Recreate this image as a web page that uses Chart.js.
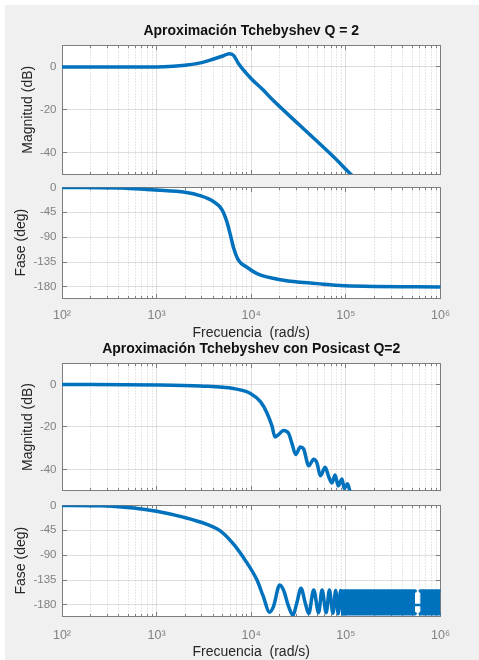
<!DOCTYPE html>
<html lang="es">
<head>
<meta charset="utf-8">
<title>Aproximación Tchebyshev</title>
<script src="https://cdn.jsdelivr.net/npm/chart.js"></script>
<style>
  html, body { margin: 0; padding: 0; background: #fff; overflow: hidden; }
  .figure { position: absolute; left: 5px; top: 5px; width: 474px; height: 655px; background: #f0f0f0; }
  canvas { position: absolute; left: 0; }
</style>
</head>
<body>
<div class="figure"></div>
<canvas id="magChart" width="479" height="190" style="top:0px"></canvas>
<canvas id="faseChart" width="479" height="180" style="top:175px"></canvas>
<canvas id="magPosChart" width="479" height="170" style="top:333px"></canvas>
<canvas id="fasePosChart" width="479" height="167" style="top:493px"></canvas>
<script>
// Axis ticks
const freqTicks = [1e2, 1e3, 1e4, 1e5, 1e6];
const freqLabels = ['10²', '10³', '10⁴', '10⁵', '10⁶'];
const magTicks = [-40, -20, 0];
const phaseTicks = [-180, -135, -90, -45, 0];

// Tchebyshev Q = 2 : magnitude (dB)
const tchebMagFreq = [100, 1000, 1500, 2000, 3000, 4000, 5000, 5850, 6500, 7350, 10000, 13400, 15800, 33000, 74000, 112000, 125000];
const tchebMag = [0, 0, 0.3, 0.8, 2.0, 3.7, 5.1, 6.2, 5.4, 1.5, -5.5, -10.8, -14.2, -27.5, -42, -50, -52];

// Tchebyshev Q = 2 : phase (deg)
const tchebPhaseFreq = [100, 525, 1000, 2000, 2870, 3980, 4900, 5500, 6000, 6500, 7350, 8950, 11500, 22000, 49500, 96000, 1000000];
const tchebPhase = [0, -1.8, -4.7, -8.9, -14.8, -25.5, -40, -61, -85, -109, -132, -144, -156, -168, -174, -178, -180];

// Tchebyshev con Posicast Q=2 : magnitude (dB)
const posMagFreq = [100, 1000, 2900, 6500, 9800, 12500, 14700, 16600, 17800, 19400, 21900, 24800, 27000, 29500, 33000, 35700, 40500, 45700, 49500, 53700, 60500, 66000, 71000, 77000, 83000, 91000, 96000, 104000, 110000, 115000];
const posMag = [0, -0.2, -0.7, -1.9, -4.2, -8.1, -13.5, -19.7, -24.7, -23.6, -21.7, -23, -28, -33, -29.5, -30.3, -38.3, -35.2, -37, -43, -39, -43.6, -46.4, -42.6, -47.8, -44.5, -49, -46.8, -50, -52];

// Tchebyshev con Posicast Q=2 : phase (deg)
const posPhaseFreq = [100, 253, 570, 1000, 1910, 3400, 4700, 6500, 8900, 11500, 13400, 15600, 17200, 20000, 21900, 24800, 27600, 30300, 33600, 37200, 40500, 45700, 51500, 56000, 62000, 67000, 73000, 78000, 83000, 88000, 93000];
const posPhase = [0, -0.5, -4.7, -10.7, -21.3, -34.3, -46, -70, -102.5, -135, -164.7, -193, -182.5, -144, -153, -182.5, -199, -176.5, -150, -176.5, -195.5, -153, -194, -153, -194, -153, -195, -154, -196, -154, -196];
// dense oscillation band at high frequency (envelope) and the short gap in it
const bandFreqA = [93000, 540000];
const bandFreqB = [610000, 1000000];
const bandTop = [-155, -155];
const bandBottom = [-196, -196];
const gapFreq = [540000, 610000];
const gapPhase = [-180, -180];

const blue = '#0072BD';
const frameColor = '#7d7d7d';
const tickColor = '#808080';
const labelColor = '#262626';

Chart.defaults.font.family = '"Liberation Sans", Arial, Helvetica, sans-serif';

// minor grid positions for the log axis (2..9 per decade)
const minorFreq = [];
for (let e = 2; e < 6; e++) {
    for (let m = 2; m <= 9; m++) minorFreq.push(m * Math.pow(10, e));
}

function pts(xs, ys) {
    return xs.map((x, i) => ({ x: x, y: ys[i] }));
}

// white axes background, dotted minor grid, inward ticks and box
const bodeFrame = {
    id: 'bodeFrame',
    beforeDraw(chart) {
        const { ctx, chartArea: a } = chart;
        ctx.save();
        ctx.fillStyle = '#ffffff';
        ctx.fillRect(a.left, a.top, a.right - a.left, a.bottom - a.top);
        ctx.restore();
    },
    beforeDatasetsDraw(chart) {
        const { ctx, chartArea: a, scales } = chart;
        const xs = scales.x, ys = scales.y;
        const px = v => Math.floor(v) + 0.5;
        const L = px(a.left), R = px(a.right), T = px(a.top), B = px(a.bottom);
        const seg = (x1, y1, x2, y2) => { ctx.beginPath(); ctx.moveTo(x1, y1); ctx.lineTo(x2, y2); ctx.stroke(); };
        ctx.save();
        ctx.lineWidth = 1;
        ctx.strokeStyle = 'rgba(38,38,38,0.22)';
        ctx.setLineDash([1, 2]);
        minorFreq.forEach(f => { const x = px(xs.getPixelForValue(f)); seg(x, T, x, B); });
        ctx.setLineDash([]);
        ctx.strokeStyle = frameColor;
        minorFreq.forEach(f => {
            const x = px(xs.getPixelForValue(f));
            seg(x, B, x, B - 2.5); seg(x, T, x, T + 2.5);
        });
        freqTicks.forEach(f => {
            const x = px(xs.getPixelForValue(f));
            seg(x, B, x, B - 4.5); seg(x, T, x, T + 4.5);
        });
        ys.ticks.forEach(t => {
            const y = px(ys.getPixelForValue(t.value));
            seg(L, y, L + 4.5, y); seg(R, y, R - 4.5, y);
        });
        ctx.strokeRect(L, T, R - L, B - T);
        ctx.restore();
    }
};

function bodeChart(id, cfg) {
    return new Chart(document.getElementById(id), {
        type: 'line',
        data: { datasets: cfg.datasets },
        options: {
            responsive: false,
            animation: false,
            devicePixelRatio: 1,
            layout: { padding: cfg.padding },
            elements: {
                point: { radius: 0 },
                line: {
                    borderWidth: 3.5,
                    borderColor: blue,
                    backgroundColor: blue,
                    borderCapStyle: 'round',
                    borderJoinStyle: 'round',
                    cubicInterpolationMode: 'monotone'
                }
            },
            plugins: {
                legend: { display: false },
                tooltip: { enabled: false },
                title: cfg.title ? {
                    display: true,
                    fullSize: false,
                    text: cfg.title,
                    color: '#111',
                    font: { size: 14, weight: 'bold', lineHeight: 1 },
                    padding: cfg.titlePadding
                } : { display: false }
            },
            scales: {
                x: {
                    type: 'logarithmic',
                    min: 1e2,
                    max: 1e6,
                    afterBuildTicks: s => { s.ticks = freqTicks.map(v => ({ value: v })); },
                    afterFit: s => { s.height = cfg.xHeight; },
                    border: { display: false },
                    grid: { color: 'rgba(38,38,38,0.15)', drawTicks: false },
                    ticks: {
                        display: cfg.xLabels,
                        autoSkip: false,
                        maxRotation: 0,
                        padding: cfg.xTickPad || 0,
                        color: tickColor,
                        font: { size: 12.5 },
                        callback: v => freqLabels[freqTicks.indexOf(v)] || ''
                    },
                    title: {
                        display: cfg.xLabels,
                        text: 'Frecuencia  (rad/s)',
                        color: labelColor,
                        font: { size: 14, lineHeight: 1 },
                        padding: { top: 0, bottom: cfg.xTitlePad || 0 }
                    }
                },
                y: {
                    min: cfg.yMin,
                    max: cfg.yMax,
                    afterBuildTicks: s => { s.ticks = cfg.yTicks.map(v => ({ value: v })); },
                    afterFit: s => { s.width = 62; },
                    border: { display: false },
                    grid: { color: 'rgba(38,38,38,0.15)', drawTicks: false },
                    ticks: {
                        autoSkip: false,
                        padding: 5.5,
                        color: tickColor,
                        font: { size: 11.5 },
                        callback: v => String(v)
                    },
                    title: {
                        display: true,
                        text: cfg.yTitle,
                        color: labelColor,
                        font: { size: 14, lineHeight: 1 },
                        padding: { top: cfg.yTitlePad, bottom: 0 }
                    }
                }
            }
        },
        plugins: [bodeFrame]
    });
}

bodeChart('magChart', {
    title: 'Aproximación Tchebyshev Q = 2',
    titlePadding: { top: 24, bottom: 7.5 },
    padding: { left: 0, right: 38.5, top: 0, bottom: 16 },
    xHeight: 0, xLabels: false,
    yMin: -50, yMax: 10, yTicks: magTicks,
    yTitle: 'Magnitud (dB)', yTitlePad: 21,
    datasets: [{ data: pts(tchebMagFreq, tchebMag) }]
});

bodeChart('faseChart', {
    padding: { left: 0, right: 38.5, top: 10.5, bottom: 12 },
    xHeight: 45, xLabels: true, xTickPad: 10.5, xTitlePad: 3.3,
    yMin: -200, yMax: 0, yTicks: phaseTicks,
    yTitle: 'Fase (deg)', yTitlePad: 14,
    datasets: [{ data: pts(tchebPhaseFreq, tchebPhase) }]
});

bodeChart('magPosChart', {
    title: 'Aproximación Tchebyshev con Posicast Q=2',
    titlePadding: { top: 9.3, bottom: 7 },
    padding: { left: 0, right: 38.5, top: 0, bottom: 10.7 },
    xHeight: 0, xLabels: false,
    yMin: -50, yMax: 10, yTicks: magTicks,
    yTitle: 'Magnitud (dB)', yTitlePad: 21,
    datasets: [{ data: pts(posMagFreq, posMag) }]
});

bodeChart('fasePosChart', {
    padding: { left: 0, right: 38.5, top: 10.5, bottom: 0 },
    xHeight: 44, xLabels: true, xTickPad: 12.5, xTitlePad: 1.3,
    yMin: -200, yMax: 0, yTicks: phaseTicks,
    yTitle: 'Fase (deg)', yTitlePad: 14,
    datasets: [
        { data: pts(posPhaseFreq, posPhase) },
        { data: pts(bandFreqA, bandTop), fill: '+1', cubicInterpolationMode: 'default', tension: 0 },
        { data: pts(bandFreqA, bandBottom), fill: false, cubicInterpolationMode: 'default', tension: 0 },
        { data: pts(gapFreq, gapPhase), fill: false, borderWidth: 2.5, cubicInterpolationMode: 'default', tension: 0 },
        { data: pts(bandFreqB, bandTop), fill: '+1', cubicInterpolationMode: 'default', tension: 0 },
        { data: pts(bandFreqB, bandBottom), fill: false, cubicInterpolationMode: 'default', tension: 0 }
    ]
});
</script>
</body>
</html>
